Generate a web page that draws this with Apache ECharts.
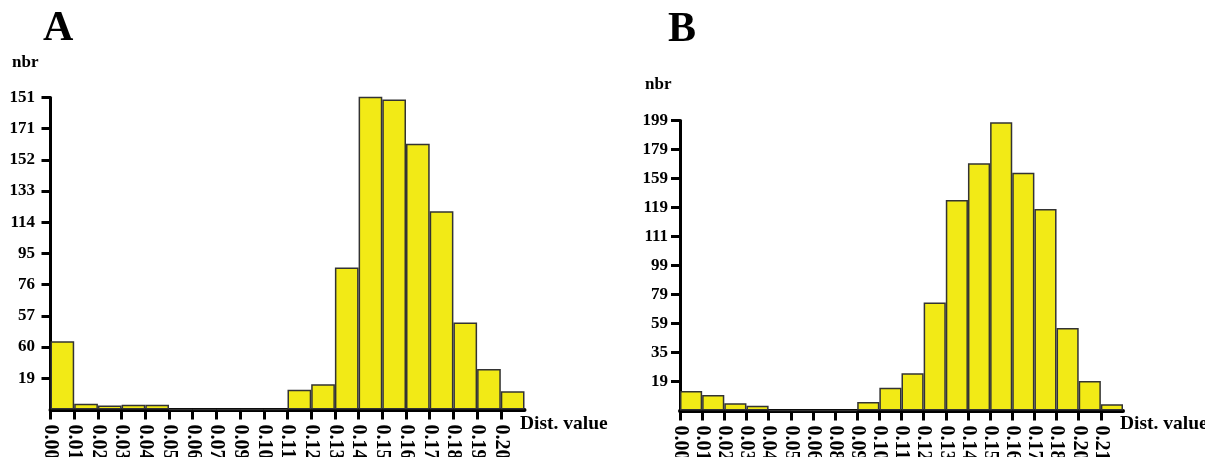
<!DOCTYPE html>
<html lang="en">
<head>
    <meta charset="UTF-8">
    <title>Dist. value histograms A / B</title>
    <script type="text/javascript" src="https://cdn.jsdelivr.net/npm/echarts@6/dist/echarts.min.js"></script>
</head>
<body style="margin:0">
<div id="main" style="height: 457px; width: 1205px"></div>
<script>
    // panel A
    let binsA = ['0.00', '0.01', '0.02', '0.03', '0.04', '0.05', '0.06', '0.07', '0.09', '0.10',
        '0.11', '0.12', '0.13', '0.14', '0.15', '0.16', '0.17', '0.18', '0.19', '0.20'];
    let countsA = [41.5, 3.5, 2.4, 2.9, 2.9, 0, 0, 0, 0, 0,
        12.1, 15.4, 86.4, 191, 188.8, 161.9, 120.8, 53, 24.7, 11.1];
    let yLabelsA = ['19', '60', '57', '76', '95', '114', '133', '152', '171', '151'];

    // panel B
    let binsB = ['0.00', '0.01', '0.02', '0.03', '0.04', '0.05', '0.06', '0.08', '0.09', '0.10',
        '0.11', '0.12', '0.13', '0.14', '0.15', '0.16', '0.17', '0.18', '0.20', '0.21'];
    let countsB = [13.4, 10.7, 5, 3.3, 0, 0, 0, 0, 5.9, 15.7,
        25.7, 74.4, 145.2, 170.5, 198.8, 164, 139, 56.9, 20.3, 4.3];
    let yLabelsB = ['19', '35', '59', '79', '99', '111', '119', '159', '179', '199'];

    let font = 'Liberation Serif';
    let idx = [];
    for (let i = 0; i < 20; i++) idx.push(i);

    function xAxes(grid, bins) {
        return [{
            type: 'value', gridIndex: grid, min: 0, max: 20,
            splitLine: {show: false},
            axisLine: {lineStyle: {color: '#000', width: 4}},
            axisTick: {customValues: idx, length: 10, lineStyle: {color: '#000', width: 3}},
            axisLabel: {
                customValues: idx, rotate: -90, margin: 15,
                fontFamily: font, fontWeight: 'bold', fontSize: 20, color: '#000',
                formatter: function (v) { return bins[v]; }
            }
        }, {
            type: 'category', gridIndex: grid, show: false, data: bins
        }];
    }

    function yAxis(grid, step, labels, margin) {
        let vals = labels.map(function (l, i) { return (i + 1) * step; });
        return {
            type: 'value', gridIndex: grid, min: 0, max: step * 10, interval: step,
            splitLine: {show: false},
            axisLine: {show: true, lineStyle: {color: '#000', width: 3}},
            axisTick: {show: true, customValues: vals, length: 9, lineStyle: {color: '#000', width: 3}},
            axisLabel: {
                customValues: vals, margin: margin,
                fontFamily: font, fontWeight: 'bold', fontSize: 17, color: '#000',
                formatter: function (v) { return labels[Math.round(v / step) - 1]; }
            }
        };
    }

    function bars(xi, yi, data) {
        return {
            type: 'bar', xAxisIndex: xi, yAxisIndex: yi, data: data,
            barCategoryGap: 0, z: 3,
            itemStyle: {color: '#F2EA16', borderColor: '#333', borderWidth: 1.5}
        };
    }

    function label(text, x, y, size) {
        return {
            type: 'text', x: x, y: y,
            style: {text: text, font: 'bold ' + size + 'px "' + font + '"', fill: '#000', verticalAlign: 'middle'}
        };
    }

    let myChart = echarts.init(document.getElementById('main'));
    let option = {
        animation: false,
        grid: [
            {left: 50.5, top: 97.5, width: 474, height: 312, outerBoundsMode: 'none'},
            {left: 680, top: 120.5, width: 443, height: 290, outerBoundsMode: 'none'}
        ],
        xAxis: xAxes(0, binsA).concat(xAxes(1, binsB)),
        yAxis: [yAxis(0, 19, yLabelsA, 15.5), yAxis(1, 20, yLabelsB, 12)],
        series: [bars(1, 0, countsA), bars(3, 1, countsB)],
        graphic: [
            label('A', 43, 29, 42),
            label('nbr', 12, 62.5, 17),
            label('Dist. value', 520, 423.5, 19.5),
            label('B', 668, 30, 42),
            label('nbr', 645, 85, 17),
            label('Dist. value', 1120, 423.5, 19.5)
        ]
    };
    myChart.setOption(option);
</script>
</body>
</html>
